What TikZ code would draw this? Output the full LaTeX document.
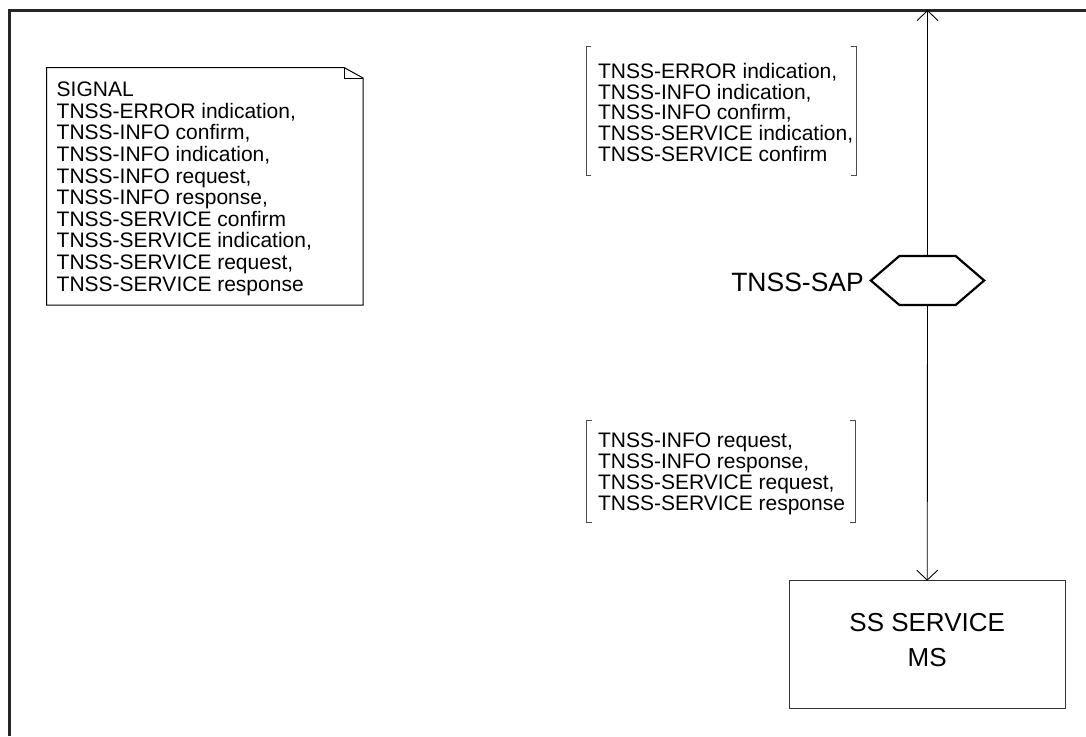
\documentclass[tikz,border=0pt]{standalone}
\usepackage{fontspec}
\setmainfont{Liberation Sans}
\usetikzlibrary{arrows.meta}
\newcommand{\fl}{\rule{0pt}{17pt}}
\tikzset{
  frame/.style={line width=3pt, draw=black!85},
  notebox/.style={line width=1pt, draw=black},
  lbl/.style={inner sep=0pt, outer sep=0pt, align=left, font=\fontsize{21}{20.8}\selectfont, anchor=north west},
  notelbl/.style={lbl, font=\fontsize{21}{21.6}\selectfont},
  brk/.style={line width=0.9pt, draw=black!70},
  sig/.style={line width=0.9pt, draw=black, -{Straight Barb[length=10pt,width=21pt,line width=0.9pt]}},
  hexline/.style={line width=2.2pt, draw=black, line join=miter},
  region/.style={inner sep=0pt, outer sep=0pt, draw=none},
  block/.style={inner sep=0pt, outer sep=0pt, draw=black!80, line width=1.3pt,
    minimum width=276pt, minimum height=127.6pt},
  blocklbl/.style={inner sep=0pt, align=center, font=\fontsize{26}{35}\selectfont}
}
\begin{document}
\begin{tikzpicture}[x=1pt,y=-1pt]
\useasboundingbox (0,0) rectangle (1086,736);
% outer frame
\draw[frame] (9,736) -- (9,10) -- (1086,10);
\coordinate (topend) at (927.5,10);
% note
\node[region, minimum width=316.3pt, minimum height=237.5pt, anchor=north west] (note) at (46.7,67.5) {};
\draw[notebox] (note.north west) -- ([xshift=-19pt]note.north east) -- ([yshift=-10.5pt]note.north east) -- (note.south east) -- (note.south west) -- cycle;
\draw[notebox] ([xshift=-19pt]note.north east) -- ([xshift=-19pt,yshift=-10.5pt]note.north east) -- ([yshift=-10.5pt]note.north east);
\node[notelbl] (notetext) at (56.7,79.7) {\fl SIGNAL\\TNSS-ERROR indication,\\TNSS-INFO confirm,\\TNSS-INFO indication,\\TNSS-INFO request,\\TNSS-INFO response,\\TNSS-SERVICE confirm\\TNSS-SERVICE indication,\\TNSS-SERVICE request,\\TNSS-SERVICE response};
% upper bracket
\node[region, minimum width=270pt, minimum height=128.3pt, anchor=north west] (b1) at (586,46.7) {};
\draw[brk] ([xshift=5pt]b1.north west) -- (b1.north west) -- (b1.south west) -- ++(5pt,0);
\draw[brk] ([xshift=-5pt]b1.north east) -- (b1.north east) -- (b1.south east) -- ++(-5pt,0);
\node[lbl] (b1text) at (598,61.3) {\fl TNSS-ERROR indication,\\TNSS-INFO indication,\\TNSS-INFO confirm,\\TNSS-SERVICE indication,\\TNSS-SERVICE confirm};
% lower bracket
\node[region, minimum width=268.3pt, minimum height=102pt, anchor=north west] (b2) at (586.7,420.7) {};
\draw[brk] ([xshift=5pt]b2.north west) -- (b2.north west) -- (b2.south west) -- ++(5pt,0);
\draw[brk] ([xshift=-5pt]b2.north east) -- (b2.north east) -- (b2.south east) -- ++(-5pt,0);
\node[lbl] (b2text) at (598,430.7) {\fl TNSS-INFO request,\\TNSS-INFO response,\\TNSS-SERVICE request,\\TNSS-SERVICE response};
% SAP hexagon
\node[region, minimum width=113.3pt, minimum height=49pt] (hex) at (927.5,280.5) {};
\draw[hexline] (hex.west) -- ([xshift=28.5pt]hex.north west) -- ([xshift=-28.5pt]hex.north east) -- (hex.east) -- ([xshift=-28.5pt]hex.south east) -- ([xshift=28.5pt]hex.south west) -- cycle;
\node[inner sep=0pt, anchor=base east, font=\fontsize{26.5}{30}\selectfont] (saplbl) at (864,291.7) {TNSS-SAP};
% block
\node[block] (ms) at (927.2,644.5) {};
\node[blocklbl, yshift=4pt] (mstext) at (ms.center) {SS SERVICE\\MS};
% connectors
\draw[sig] (hex.north) -- (topend);
\draw[sig] (hex.south) -- (ms.north);
\end{tikzpicture}
\end{document}
